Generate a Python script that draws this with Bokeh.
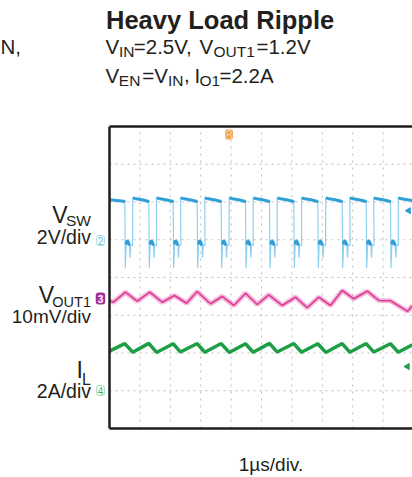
from bokeh.plotting import figure
from bokeh.models import Range1d, Label
from bokeh.embed import file_html
from bokeh.resources import INLINE

# ---------------- data ----------------
# time axis: 1 us / div, screen shows ~10 div
T_END_US = 9.967
# switch node (2 V/div, ground marker at 5 div)
SW_FALL_US = [0.503, 1.293, 2.095, 2.885, 3.674, 4.474, 5.263, 6.063, 6.852, 7.655, 8.444, 9.243]
SW_RISE_US = [0.766, 1.546, 2.336, 3.135, 3.938, 4.727, 5.516, 6.316, 7.115, 7.905, 8.694, 9.497]
SW_LOW_DT_US = [0.016, 0.045, 0.065, 0.11, 0.155, 0.175, 0.195, 0.255]
SW_LOW_V = [-1.5, -0.25, -0.05, -0.1, -0.3, -0.95, -0.3, -0.3]
SW_HIGH_DT_US = [0.0, 0.07, 0.3]
SW_HIGH_V = [2.22, 2.19, 2.12]
SW_HIGH_END_V = [2.04, 1.98]
# output ripple (10 mV/div, AC) : time (us), deviation (mV)
VOUT_T_US = [0.0, 0.132, 0.526, 0.911, 1.326, 1.734, 2.138, 2.533, 2.885, 3.322, 3.707, 4.089,
             4.474, 4.859, 5.240, 5.681, 6.118, 6.503, 6.885, 7.270, 7.655, 8.036, 8.477,
             8.859, 9.243, 9.806, 9.967]
VOUT_MV = [-0.6, -0.98, 1.67, -0.72, 1.67, -0.98, 0.79, -1.25, 1.85, -1.40, 0.53, -1.85,
           1.40, -1.59, 0.98, -1.85, 0.34, -2.46, 0.34, -1.85, 2.12, -0.08, 1.93,
           -0.53, -0.6, -3.4, -1.9]
# inductor current (2 A/div, ground at 1 div)
IL_START_A = 2.10
IL_PEAK_A = [2.50, 2.51, 2.49, 2.50, 2.50, 2.49, 2.51, 2.50, 2.49, 2.50, 2.50, 2.49]
IL_TROUGH_A = [2.04, 2.03, 2.05, 2.04, 2.03, 2.04, 2.05, 2.04, 2.03, 2.04, 2.05, 2.04]
IL_END_A = 2.44
# channel scales / offsets (div)
SW_V_PER_DIV, SW_ZERO_DIV = 2.0, 5.0
VOUT_MV_PER_DIV, VOUT_ZERO_DIV = 10.0, 3.444
IL_A_PER_DIV, IL_ZERO_DIV = 2.0, 1.0
RIGHT_MARK_T = [9.84, 9.80]
RIGHT_MARK_DIV = [5.77, 1.64]
RIGHT_MARK_COL = ["#2f9fd8", "#1f9e48"]

FONT = "Liberation Sans"
W, H = 412, 477
# page pixel geometry of the scope screen
SCR_LEFT, SCR_BOTTOM, PX_PER_US, PX_PER_DIV = 109.0, 428.0, 30.4, 37.75

X0 = -SCR_LEFT / PX_PER_US
Y0 = (SCR_BOTTOM - H) / PX_PER_DIV
Y1 = SCR_BOTTOM / PX_PER_DIV

p = figure(width=W, height=H, output_backend="svg", toolbar_location=None,
           x_axis_location=None, y_axis_location=None,
           x_range=Range1d(X0, T_END_US), y_range=Range1d(Y0, Y1),
           min_border=0)
p.outline_line_color = None
p.background_fill_color = "white"
p.border_fill_color = "white"
p.grid.visible = False

def rng(zero, per):
    return Range1d((Y0 - zero) * per, (Y1 - zero) * per)

p.extra_y_ranges = {"sw": rng(SW_ZERO_DIV, SW_V_PER_DIV),
                    "vout": rng(VOUT_ZERO_DIV, VOUT_MV_PER_DIV),
                    "il": rng(IL_ZERO_DIV, IL_A_PER_DIV)}

# graticule (dotted) inside the screen
p.multi_line([[i, i] for i in range(1, 10)], [[0, 8]] * 9,
             line_color="#bcbcbc", line_dash="2 5", line_width=1)
p.multi_line([[0, T_END_US]] * 7, [[j, j] for j in range(1, 8)],
             line_color="#bcbcbc", line_dash="2 4", line_width=1)

# ---- build switch node path from the read edges ----
sw_t, sw_v, thick_x, thick_y = [], [], [], []
for k, F in enumerate(SW_FALL_US):
    if k == 0:
        pts = [(0.0, SW_HIGH_V[2])]
    else:
        R = SW_RISE_US[k - 1]
        pts = [(R + d, vv) for d, vv in zip(SW_HIGH_DT_US, SW_HIGH_V)]
    pts += [(F - 0.03, SW_HIGH_END_V[0]), (F, SW_HIGH_END_V[1])]
    thick_x.append([a for a, _ in pts]); thick_y.append([b for _, b in pts])
    low = [(F + d, vv) for d, vv in zip(SW_LOW_DT_US, SW_LOW_V)]
    pts += low
    thick_x.append([a for a, _ in low[1:5]]); thick_y.append([b for _, b in low[1:5]])
    sw_t += [a for a, _ in pts]; sw_v += [b for _, b in pts]
R = SW_RISE_US[-1]
pts = [(R + d, vv) for d, vv in zip(SW_HIGH_DT_US, SW_HIGH_V)] + [(T_END_US, 2.08)]
thick_x.append([a for a, _ in pts]); thick_y.append([b for _, b in pts])
sw_t += [a for a, _ in pts]; sw_v += [b for _, b in pts]

p.line(sw_t, sw_v, y_range_name="sw", line_color="#8fd0ef", line_width=1.2)
p.multi_line(thick_x, thick_y, y_range_name="sw", line_color="#2f9fd8", line_width=3)

# ---- inductor current ----
il_t, il_a = [0.0], [IL_START_A]
for F, R, pk, tr in zip(SW_FALL_US, SW_RISE_US, IL_PEAK_A, IL_TROUGH_A):
    il_t += [F, R]; il_a += [pk, tr]
il_t.append(T_END_US); il_a.append(IL_END_A)
p.line(il_t, il_a, y_range_name="il", line_color="#1f9e48", line_width=3.5)

# ---- output ripple ----
p.line(VOUT_T_US, VOUT_MV, y_range_name="vout", line_color="#ec6fb3", line_width=5, line_alpha=0.5)
p.line(VOUT_T_US, VOUT_MV, y_range_name="vout", line_color="#dc3a94", line_width=1.6)

p.scatter(RIGHT_MARK_T, RIGHT_MARK_DIV, marker="triangle", angle=1.5708, size=6,
          color=RIGHT_MARK_COL)

# screen border (left, top, bottom)
p.multi_line([[0, 0], [0, T_END_US], [0, T_END_US]], [[0, 8], [8, 8], [0, 0]],
             line_color="#1e1e1e", line_width=2.5)

def X(px):
    return (px - SCR_LEFT) / PX_PER_US

def Y(py):
    return (SCR_BOTTOM - py) / PX_PER_DIV

def lab(text, px, py, size, align="left", bold=False, color="#231f20", baseline="alphabetic", **kw):
    if baseline == "alphabetic":
        py -= 0.35 * size   # compensate renderer's baseline placement
    p.add_layout(Label(x=X(px), y=Y(py), text=text, text_font=FONT,
                       text_font_size=f"{size}px", text_align=align, text_baseline=baseline,
                       text_color=color, text_font_style="bold" if bold else "normal", **kw))

M, S = 20.5, 15.5
# title block
lab("Heavy Load Ripple", 105.5, 28.5, 25.5, bold=True)
b2, b3 = 53.5, 82.0
lab("V", 105, b2, M); lab("IN", 118.5, b2 + 3, S); lab("=2.5V,", 133.3, b2, M)
lab("V", 199, b2, M); lab("OUT1", 213, b2 + 3, S); lab("=1.2V", 256, b2, M)
lab("V", 105, b3, M); lab("EN", 118.3, b3 + 3, S); lab("=V", 141.7, b3, M)
lab("IN", 167.5, b3 + 3, S); lab(",", 183.5, b3, M); lab("I", 194, b3, M)
lab("O1", 199, b3 + 3, S); lab("=2.2A", 219, b3, M)
lab("N,", 0, b2, M)

# channel labels
lab("V", 67, 223, 23, "right"); lab("SW", 90.5, 225.5, 15.5, "right"); lab("2V/div", 90.5, 243, 19.5, "right")
lab("V", 53.5, 303, 23, "right"); lab("OUT1", 90.5, 307, 14.5, "right"); lab("10mV/div", 90.5, 323, 19, "right")
lab("I", 82.5, 378, 23, "right"); lab("L", 90.5, 385, 16, "right"); lab("2A/div", 90.5, 397, 19.5, "right")
lab("1\u00b5s/div.", 270.5, 470.5, 19, "center")

# channel markers
lab("2", 100, 240, 10, "center", color="#5fc3d6", baseline="middle",
    border_line_color="#a5dde8", background_fill_color="white", padding=1, border_radius=2)
lab("3", 100, 298, 10, "center", bold=True, color="white", baseline="middle",
    background_fill_color="#a4309c", padding=2, border_radius=3)
lab("4", 100, 390, 10, "center", color="#3cb46c", baseline="middle",
    border_line_color="#9fd9b4", background_fill_color="white", padding=1, border_radius=2)
lab("8", 228.5, 134, 14, "center", color="#f8cf98", baseline="middle",
    background_fill_color="#f0a048", padding=0, border_radius=2)

open("out.html", "w").write(file_html(p, INLINE))
